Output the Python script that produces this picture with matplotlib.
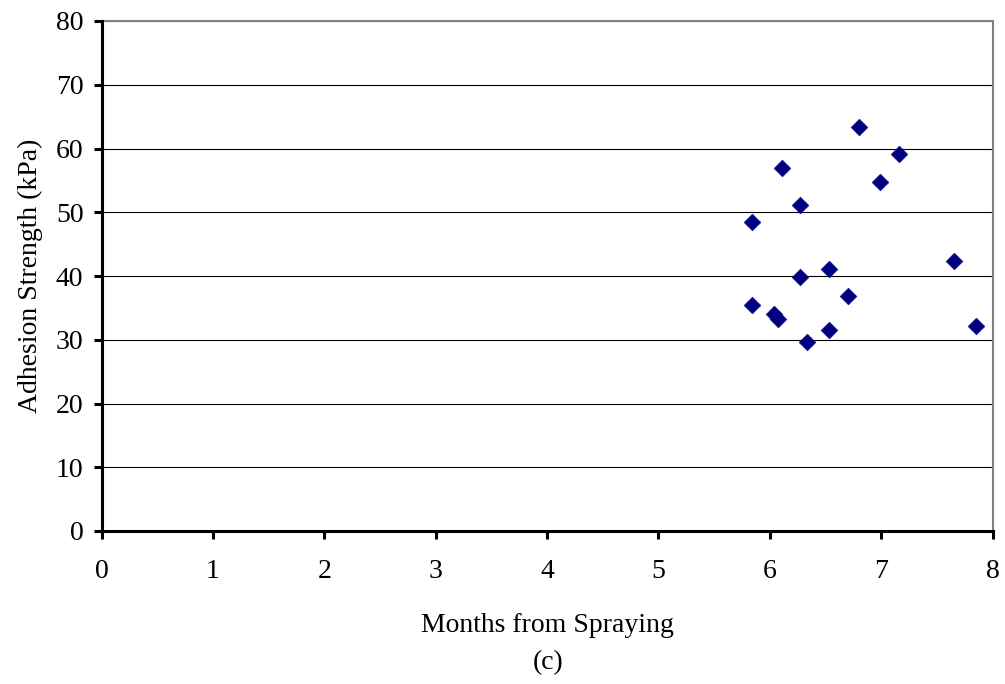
import matplotlib
matplotlib.use("Agg")
import matplotlib.pyplot as plt

months = [6.80, 7.16, 6.11, 6.99, 6.27, 5.84, 7.65, 6.53, 6.27, 6.70, 5.84, 6.04, 6.07, 6.53, 7.85, 6.33]
strength = [63.4, 59.1, 57.0, 54.7, 51.2, 48.4, 42.4, 41.1, 39.9, 36.9, 35.5, 34.0, 33.2, 31.6, 32.2, 29.7]
x_ticks = [0, 1, 2, 3, 4, 5, 6, 7, 8]
y_ticks = [0, 10, 20, 30, 40, 50, 60, 70, 80]

plt.rcParams['font.family'] = ['Liberation Serif', 'DejaVu Serif']

W, H = 1005, 684
fig = plt.figure(figsize=(W / 100, H / 100), dpi=100)
left, right, top, bottom = 101.5, 992.5, 21, 531
ax = fig.add_axes([left / W, (H - bottom) / H, (right - left) / W, (bottom - top) / H])

ax.scatter(months, strength, marker='D', s=8.6 ** 2, color='#000080', zorder=3, linewidths=0.3,
           edgecolors='#000080')

ax.set_xlim(0, 8)
ax.set_ylim(0, 80)
ax.set_xticks(x_ticks)
ax.set_yticks(y_ticks)
ax.grid(axis='y', color='black', linewidth=0.8, zorder=1)
ax.set_axisbelow(True)

for s in ['left', 'bottom']:
    ax.spines[s].set_color('black')
    ax.spines[s].set_linewidth(2.2)
    ax.spines[s].set_zorder(4)
for s in ['top', 'right']:
    ax.spines[s].set_color('#808080')
    ax.spines[s].set_linewidth(1.5)

ax.tick_params(axis='both', direction='out', length=6, width=2.2, color='black', labelsize=20)
ax.tick_params(axis='x', pad=14)
ax.tick_params(axis='y', pad=7)

fig.text((left + right) / 2 / W, (H - 625) / H, 'Months from Spraying', ha='center', va='center', fontsize=20)
fig.text(548 / W, (H - 663) / H, '(c)', ha='center', va='center', fontsize=20)
fig.text(30 / W, (H - (top + bottom) / 2) / H, 'Adhesion Strength (kPa)', ha='center', va='center', rotation=90, fontsize=20)

fig.savefig('out.png', dpi=100)
